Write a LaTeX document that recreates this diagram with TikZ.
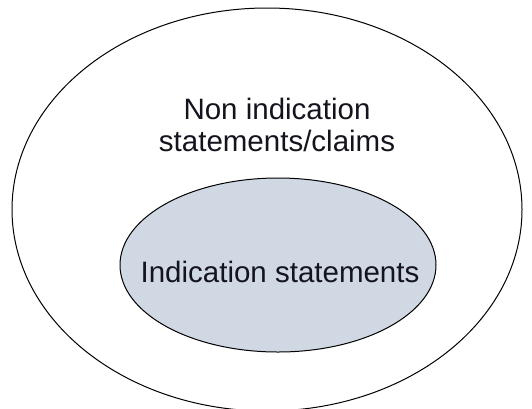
\documentclass[tikz,border=0pt]{standalone}
\usepackage{fontspec}
\setmainfont{Liberation Sans}
\usetikzlibrary{shapes.geometric}
\definecolor{innerfill}{HTML}{D0D8E3}
\definecolor{textdark}{HTML}{14141E}
\tikzset{
  setshape/.style={ellipse, draw=black, line width=1pt, inner sep=0pt},
  lbl/.style={font=\fontsize{29.5}{32}\selectfont, align=center, text=textdark, inner sep=0pt}
}
\begin{document}
\begin{tikzpicture}[x=1pt,y=-1pt]
\useasboundingbox (0,0) rectangle (532,408);
\clip (0,0) rectangle (532,408);
\node[setshape, minimum width=510pt, minimum height=403pt] (outer) at (267,209.5) {};
\node[setshape, fill=innerfill, minimum width=316pt, minimum height=174pt] (inner) at (278,265) {};
\node[lbl] (outerlbl) at (277,124.5) {Non indication\\statements/claims};
\node[lbl, anchor=base] (innerlbl) at (280,282) {Indication statements};
\end{tikzpicture}
\end{document}
